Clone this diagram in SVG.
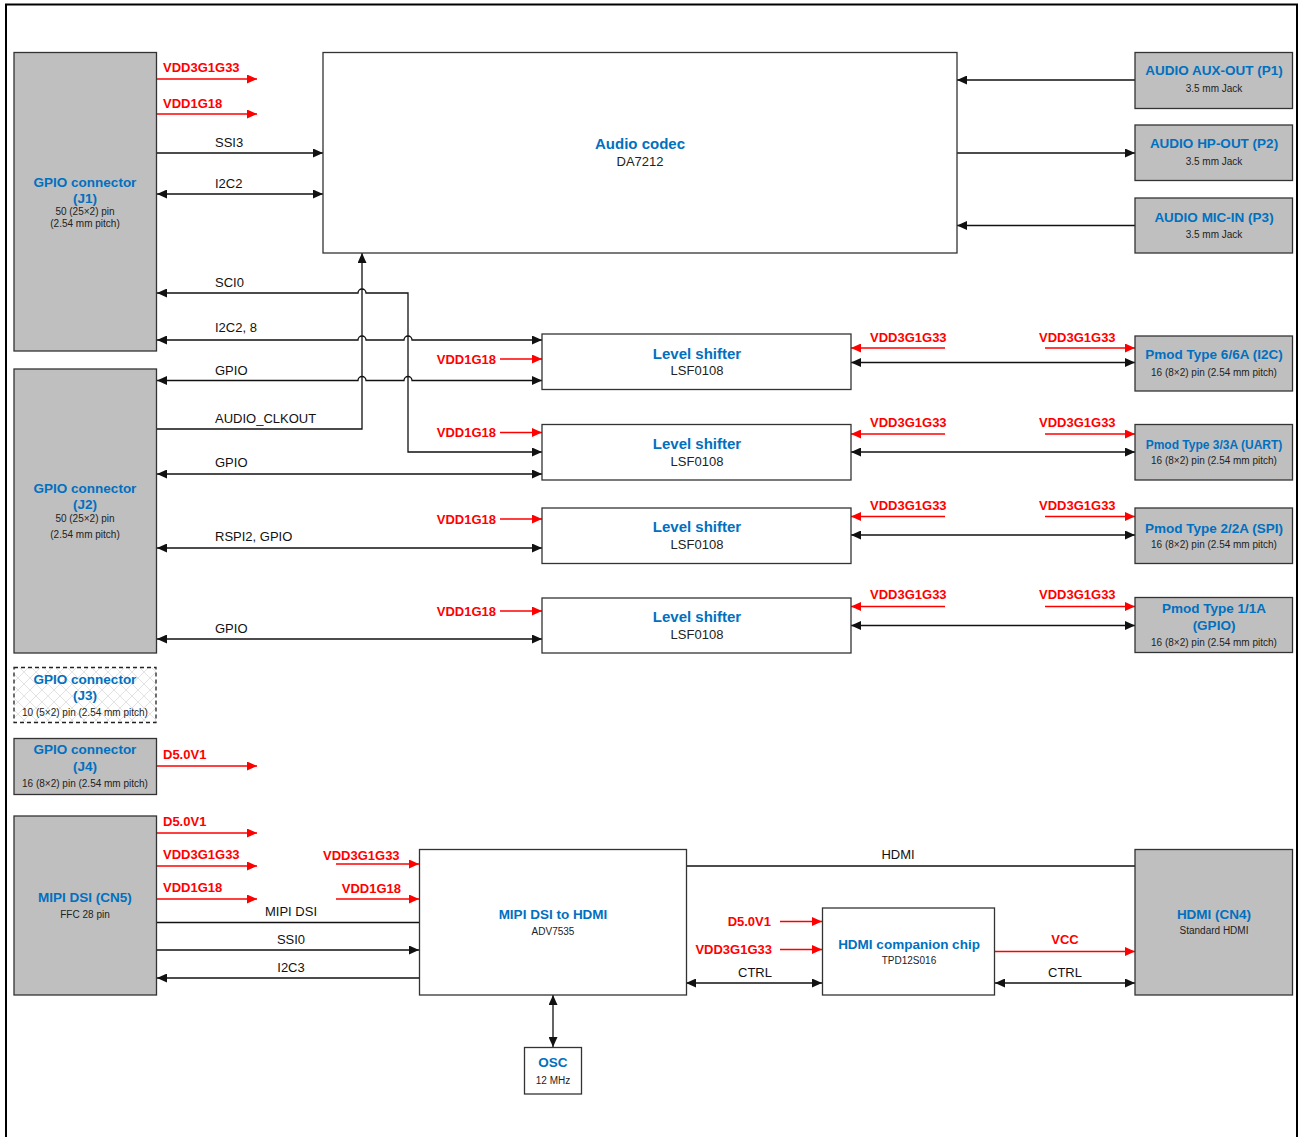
<svg xmlns="http://www.w3.org/2000/svg" width="1302" height="1137" viewBox="0 0 1302 1137">
<style>
.box{fill:#fff;stroke:#333;stroke-width:1.3}
.con{fill:#bfbfbf;stroke:#333;stroke-width:1.3}
text{font-family:"Liberation Sans",Arial,sans-serif;text-anchor:middle}
.ti{font-size:13.5px;font-weight:bold;fill:#0070c0}
.tb{font-size:15px;font-weight:bold;fill:#0070c0}
.su{font-size:10px;fill:#222}
.sm{font-size:13px;fill:#222}
.lb{font-size:13px;fill:#111;text-anchor:start}
.lc{font-size:13px;fill:#111}
.rl{font-size:13px;font-weight:bold;fill:#ff0000;text-anchor:start}
.rr{font-size:13px;font-weight:bold;fill:#ff0000;text-anchor:end}
.rc{font-size:13px;font-weight:bold;fill:#ff0000}
.w{stroke:#111;stroke-width:1.3;fill:none}
.w1{marker-end:url(#ah)}
.w2{marker-start:url(#ah);marker-end:url(#ah)}
.r{stroke:#ff0000;stroke-width:1.3;fill:none;marker-end:url(#rh)}
</style>
<defs>
<marker id="ah" viewBox="0 0 10 9" refX="10" refY="4.5" markerWidth="10" markerHeight="9" markerUnits="userSpaceOnUse" orient="auto-start-reverse"><path d="M0,0 L10,4.5 L0,9 z" fill="#111"/></marker>
<marker id="rh" viewBox="0 0 10 9" refX="10" refY="4.5" markerWidth="10" markerHeight="9" markerUnits="userSpaceOnUse" orient="auto-start-reverse"><path d="M0,0 L10,4.5 L0,9 z" fill="#ff0000"/></marker>
<pattern id="hatch" width="12" height="12" patternUnits="userSpaceOnUse"><rect width="12" height="12" fill="#fff"/><path d="M0,0 L12,12 M12,0 L0,12" stroke="#e2e2e2" stroke-width="1"/></pattern>
</defs>

<path d="M6,1137 V4.5 H1297 V1137" fill="none" stroke="#000" stroke-width="2"/>

<g id="connectors">
<path class="w w1" d="M1135,80 H957"/>
<path class="w w1" d="M957,153 H1135"/>
<path class="w w1" d="M1135,225.5 H957"/>
<path class="w w1" d="M157,153 H323"/>
<path class="w w2" d="M157,194 H323"/>
<path class="w w2" d="M542,452 H408 V293 H366 A4,4 0 0 0 358,293 H157"/>
<path class="w w2" d="M157,340 H358 A4,4 0 0 1 366,340 H404 A4,4 0 0 1 412,340 H542"/>
<path class="w w2" d="M157,380.5 H358 A4,4 0 0 1 366,380.5 H404 A4,4 0 0 1 412,380.5 H542"/>
<path class="w w1" d="M157,429 H362 V253"/>
<path class="w w2" d="M157,474 H542"/>
<path class="w w2" d="M157,548 H542"/>
<path class="w w2" d="M157,639 H542"/>
<path class="w w2" d="M851,362.5 H1135"/>
<path class="w w2" d="M851,452 H1135"/>
<path class="w w2" d="M851,535 H1135"/>
<path class="w w2" d="M851,625.5 H1135"/>
<path class="w" d="M157,922.5 H419"/>
<path class="w w1" d="M157,950 H419"/>
<path class="w w1" d="M419,978 H157"/>
<path class="w" d="M686,866 H1135"/>
<path class="w w2" d="M686,983 H822"/>
<path class="w w2" d="M995,983 H1135"/>
<path class="w w2" d="M553,995 V1047"/>

<path class="r" d="M157,79 H257"/>
<path class="r" d="M157,114 H257"/>
<path class="r" d="M500,359 H542"/>
<path class="r" d="M500,432.5 H542"/>
<path class="r" d="M500,519 H542"/>
<path class="r" d="M500,611 H542"/>
<path class="r" d="M945,348 H851"/>
<path class="r" d="M1045,348 H1135"/>
<path class="r" d="M945,434 H851"/>
<path class="r" d="M1045,434 H1135"/>
<path class="r" d="M945,516.5 H851"/>
<path class="r" d="M1045,516.5 H1135"/>
<path class="r" d="M945,606.5 H851"/>
<path class="r" d="M1045,606.5 H1135"/>
<path class="r" d="M157,766 H257"/>
<path class="r" d="M157,833 H257"/>
<path class="r" d="M157,866 H257"/>
<path class="r" d="M157,899 H257"/>
<path class="r" d="M336,864 H419"/>
<path class="r" d="M336,899 H419"/>
<path class="r" d="M780,921.5 H822"/>
<path class="r" d="M780,949.5 H822"/>
<path class="r" d="M995,951.5 H1135"/>

<text class="rl" x="163" y="72">VDD3G1G33</text>
<text class="rl" x="163" y="108">VDD1G18</text>
<text class="lb" x="215" y="147">SSI3</text>
<text class="lb" x="215" y="188">I2C2</text>
<text class="lb" x="215" y="286.5">SCI0</text>
<text class="lb" x="215" y="332">I2C2, 8</text>
<text class="lb" x="215" y="374.5">GPIO</text>
<text class="lb" x="215" y="423">AUDIO_CLKOUT</text>
<text class="lb" x="215" y="467">GPIO</text>
<text class="lb" x="215" y="541">RSPI2, GPIO</text>
<text class="lb" x="215" y="633">GPIO</text>
<text class="rr" x="496" y="364">VDD1G18</text>
<text class="rr" x="496" y="437">VDD1G18</text>
<text class="rr" x="496" y="523.5">VDD1G18</text>
<text class="rr" x="496" y="615.5">VDD1G18</text>
<text class="rl" x="870" y="342">VDD3G1G33</text>
<text class="rl" x="1039" y="342">VDD3G1G33</text>
<text class="rl" x="870" y="427">VDD3G1G33</text>
<text class="rl" x="1039" y="427">VDD3G1G33</text>
<text class="rl" x="870" y="510">VDD3G1G33</text>
<text class="rl" x="1039" y="510">VDD3G1G33</text>
<text class="rl" x="870" y="599">VDD3G1G33</text>
<text class="rl" x="1039" y="599">VDD3G1G33</text>
<text class="rl" x="163" y="759">D5.0V1</text>
<text class="rl" x="163" y="826">D5.0V1</text>
<text class="rl" x="163" y="859">VDD3G1G33</text>
<text class="rl" x="163" y="892">VDD1G18</text>
<text class="rl" x="323" y="860">VDD3G1G33</text>
<text class="rr" x="401" y="893">VDD1G18</text>
<text class="lc" x="291" y="916">MIPI DSI</text>
<text class="lc" x="291" y="943.5">SSI0</text>
<text class="lc" x="291" y="972">I2C3</text>
<text class="lc" x="898" y="859">HDMI</text>
<text class="rr" x="771" y="926">D5.0V1</text>
<text class="rr" x="772" y="954">VDD3G1G33</text>
<text class="lc" x="755" y="977">CTRL</text>
<text class="rc" x="1065" y="944">VCC</text>
<text class="lc" x="1065" y="977">CTRL</text>
</g>

<g id="j1"><rect class="con" x="14" y="52.5" width="142.5" height="298.5"/>
<text class="ti" x="85" y="187">GPIO connector</text><text class="ti" x="85" y="203">(J1)</text>
<text class="su" x="85" y="215">50 (25×2) pin</text><text class="su" x="85" y="226.5">(2.54 mm pitch)</text></g>

<g id="j2"><rect class="con" x="14" y="369" width="142.5" height="284"/>
<text class="ti" x="85" y="493">GPIO connector</text><text class="ti" x="85" y="509">(J2)</text>
<text class="su" x="85" y="522">50 (25×2) pin</text><text class="su" x="85" y="538">(2.54 mm pitch)</text></g>

<g id="j3"><rect x="14" y="667.5" width="142" height="55" fill="url(#hatch)" stroke="#222" stroke-width="1.3" stroke-dasharray="4,3"/>
<text class="ti" x="85" y="684">GPIO connector</text><text class="ti" x="85" y="700">(J3)</text>
<text class="su" x="85" y="715.5">10 (5×2) pin (2.54 mm pitch)</text></g>

<g id="j4"><rect class="con" x="14" y="738.5" width="142.5" height="56"/>
<text class="ti" x="85" y="754">GPIO connector</text><text class="ti" x="85" y="771">(J4)</text>
<text class="su" x="85" y="787">16 (8×2) pin (2.54 mm pitch)</text></g>

<g id="cn5"><rect class="con" x="14" y="816" width="142.5" height="179"/>
<text class="ti" x="85" y="902">MIPI DSI (CN5)</text><text class="su" x="85" y="917.5">FFC 28 pin</text></g>

<g id="codec"><rect class="box" x="323" y="52.5" width="634" height="200.5"/>
<text class="tb" x="640" y="148.5">Audio codec</text><text class="sm" x="640" y="165.5">DA7212</text></g>

<g id="p1"><rect class="con" x="1135" y="52.5" width="157.5" height="56"/>
<text class="ti" x="1214" y="75">AUDIO AUX-OUT (P1)</text><text class="su" x="1214" y="92">3.5 mm Jack</text></g>
<g id="p2"><rect class="con" x="1135" y="125" width="157.5" height="55.5"/>
<text class="ti" x="1214" y="148">AUDIO HP-OUT (P2)</text><text class="su" x="1214" y="164.5">3.5 mm Jack</text></g>
<g id="p3"><rect class="con" x="1135" y="198" width="157.5" height="55"/>
<text class="ti" x="1214" y="221.5">AUDIO MIC-IN (P3)</text><text class="su" x="1214" y="237.5">3.5 mm Jack</text></g>

<g id="ls1"><rect class="box" x="542" y="334" width="309" height="55.5"/>
<text class="tb" x="697" y="358.5">Level shifter</text><text class="sm" x="697" y="375">LSF0108</text></g>
<g id="ls2"><rect class="box" x="542" y="424.5" width="309" height="55.5"/>
<text class="tb" x="697" y="449">Level shifter</text><text class="sm" x="697" y="465.5">LSF0108</text></g>
<g id="ls3"><rect class="box" x="542" y="508" width="309" height="55.5"/>
<text class="tb" x="697" y="532">Level shifter</text><text class="sm" x="697" y="548.5">LSF0108</text></g>
<g id="ls4"><rect class="box" x="542" y="598" width="309" height="55"/>
<text class="tb" x="697" y="621.5">Level shifter</text><text class="sm" x="697" y="638.5">LSF0108</text></g>

<g id="pmod1"><rect class="con" x="1135" y="336" width="157.5" height="55"/>
<text class="ti" x="1214" y="359">Pmod Type 6/6A (I2C)</text><text class="su" x="1214" y="376">16 (8×2) pin (2.54 mm pitch)</text></g>
<g id="pmod2"><rect class="con" x="1135" y="424.5" width="157.5" height="55.5"/>
<text class="ti" x="1214" y="448.5" style="font-size:12px">Pmod Type 3/3A (UART)</text><text class="su" x="1214" y="464">16 (8×2) pin (2.54 mm pitch)</text></g>
<g id="pmod3"><rect class="con" x="1135" y="508" width="157.5" height="55.5"/>
<text class="ti" x="1214" y="532.5">Pmod Type 2/2A (SPI)</text><text class="su" x="1214" y="548">16 (8×2) pin (2.54 mm pitch)</text></g>
<g id="pmod4"><rect class="con" x="1135" y="597.5" width="157.5" height="55"/>
<text class="ti" x="1214" y="613">Pmod Type 1/1A</text><text class="ti" x="1214" y="630">(GPIO)</text><text class="su" x="1214" y="646">16 (8×2) pin (2.54 mm pitch)</text></g>

<g id="mipi"><rect class="box" x="419.5" y="849.5" width="267" height="145.5"/>
<text class="ti" x="553" y="919">MIPI DSI to HDMI</text><text class="su" x="553" y="934.5">ADV7535</text></g>
<g id="osc"><rect class="box" x="524.5" y="1047.5" width="57" height="46.5"/>
<text class="ti" x="553" y="1067">OSC</text><text class="su" x="553" y="1083.5">12 MHz</text></g>
<g id="companion"><rect class="box" x="822.5" y="908" width="172" height="87"/>
<text class="ti" x="909" y="948.5">HDMI companion chip</text><text class="su" x="909" y="963.5">TPD12S016</text></g>
<g id="cn4"><rect class="con" x="1135" y="849.5" width="157.5" height="145.5"/>
<text class="ti" x="1214" y="919">HDMI (CN4)</text><text class="su" x="1214" y="934">Standard HDMI</text></g>
</svg>
